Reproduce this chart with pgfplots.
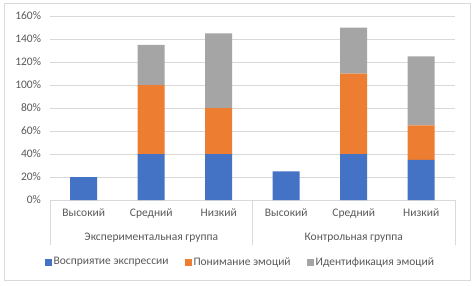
\documentclass[border=0pt]{standalone}
\usepackage{pgfplots}
\pgfplotsset{compat=1.18}
\usepackage{pgfplotstable}
\usepackage{fontspec}
\setmainfont{Carlito}
\definecolor{cblue}{HTML}{4472C4}
\definecolor{corange}{HTML}{ED7D31}
\definecolor{cgray}{HTML}{A5A5A5}
\definecolor{gridgray}{HTML}{D9D9D9}
\definecolor{textgray}{HTML}{595959}
\pgfplotstableread{
x a b c
0 20 0 0
1 40 60 35
2 40 40 65
3 25 0 0
4 40 70 40
5 35 30 60
}\datatable
\begin{document}
\fontsize{11.5}{13}\selectfont
\begin{tikzpicture}
\useasboundingbox (-50pt,-85pt) rectangle (425pt,200pt);
\fill[white] (-50pt,-85pt) rectangle (425pt,200pt);
\draw[gridgray] (-46pt,-80pt) rectangle (420pt,197pt);
\begin{axis}[
  scale only axis, width=405pt, height=184pt,
  ybar stacked, bar width=27pt,
  xmin=-0.5, xmax=5.5, ymin=0, ymax=160,
  xtick={0,...,5},
  xticklabels={Высокий,Средний,Низкий,Высокий,Средний,Низкий},
  ytick={0,20,...,160},
  yticklabel={\pgfmathprintnumber{\tick}\%},
  /pgf/number format/assume math mode=true,
  ymajorgrids, grid style={draw=gridgray},
  axis line style={draw=none},
  major tick length=0pt,
  tick style={draw=none},
  ticklabel style={text=textgray, font=\fontsize{11.5}{13}\selectfont},
  xticklabel style={yshift=-5pt},
  yticklabel style={xshift=-5pt},
  clip=false,
  legend style={at={(0.47,-0.337)}, anchor=center, draw=none, fill=none,
    legend columns=3, text=textgray, font=\fontsize{11.5}{13}\selectfont,
    /tikz/every even column/.append style={column sep=14pt},
    legend cell align=left, inner sep=0pt},
  legend image code/.code={\fill[#1] (0pt,-3.5pt) rectangle (7pt,3.5pt);},
]
\addplot[fill=cblue, draw=none] table[x=x, y=a] {\datatable};
\addplot[fill=corange, draw=none] table[x=x, y=b] {\datatable};
\addplot[fill=cgray, draw=none] table[x=x, y=c] {\datatable};
\legend{Восприятие экспрессии, Понимание эмоций, Идентификация эмоций}
\draw[gridgray] (axis cs:-0.5,0) -- ++(0pt,-45pt);
\draw[gridgray] (axis cs:2.5,0) -- ++(0pt,-45pt);
\draw[gridgray] (axis cs:5.5,0) -- ++(0pt,-45pt);
\draw[gridgray] (axis cs:-0.5,0) -- (axis cs:5.5,0);
\node[text=textgray] at (axis cs:1,0) [yshift=-38pt] {Экспериментальная группа};
\node[text=textgray] at (axis cs:4,0) [yshift=-38pt] {Контрольная группа};
\end{axis}
\end{tikzpicture}
\end{document}
